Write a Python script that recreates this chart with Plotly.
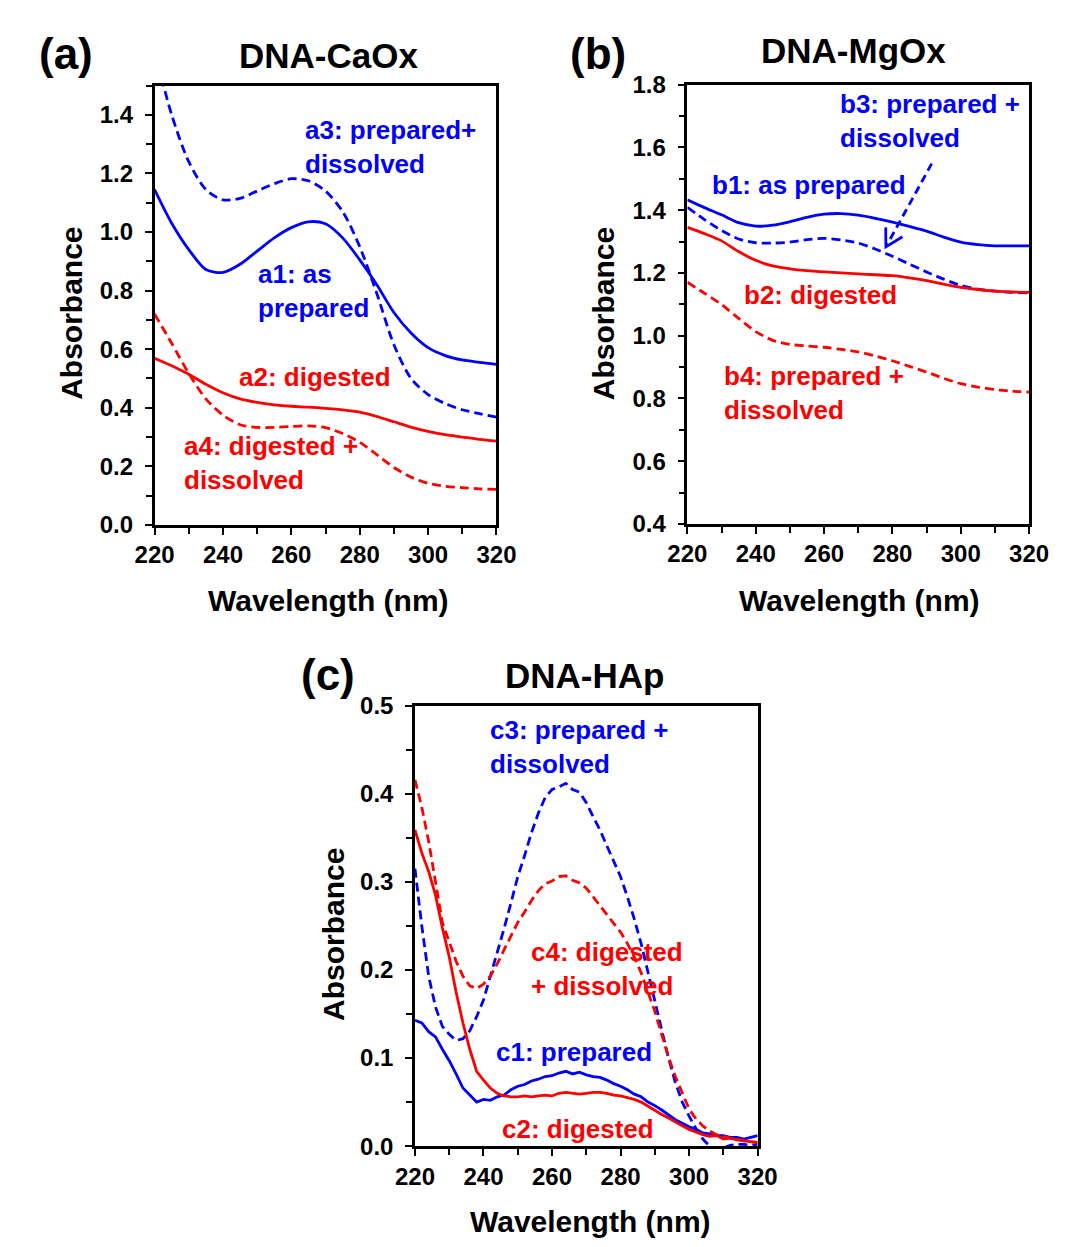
import plotly.graph_objects as go

# ---------------- data ----------------
wl5 = [220, 225, 230, 235, 240, 245, 250, 255, 260, 265, 270, 275, 280, 285, 290, 295, 300, 305, 310, 315, 320]

a1_prepared = [1.145, 1.03, 0.94, 0.872, 0.862, 0.89, 0.935, 0.98, 1.015, 1.035, 1.028, 0.98, 0.905, 0.82, 0.725, 0.655, 0.605, 0.578, 0.563, 0.555, 0.548]
a2_digested = [0.569, 0.543, 0.514, 0.48, 0.451, 0.43, 0.418, 0.41, 0.405, 0.402, 0.398, 0.393, 0.385, 0.37, 0.352, 0.334, 0.319, 0.308, 0.30, 0.292, 0.286]
a3_prep_diss = [1.62, 1.40, 1.24, 1.145, 1.11, 1.115, 1.14, 1.165, 1.182, 1.175, 1.14, 1.07, 0.95, 0.79, 0.615, 0.50, 0.445, 0.414, 0.393, 0.38, 0.368]
a4_dig_diss = [0.72, 0.62, 0.517, 0.43, 0.375, 0.342, 0.333, 0.333, 0.336, 0.338, 0.332, 0.312, 0.282, 0.24, 0.196, 0.163, 0.142, 0.132, 0.127, 0.123, 0.121]

b1_prepared = [1.433, 1.408, 1.385, 1.36, 1.349, 1.352, 1.363, 1.377, 1.387, 1.389, 1.384, 1.374, 1.362, 1.348, 1.333, 1.314, 1.298, 1.290, 1.286, 1.286, 1.286]
b2_digested = [1.345, 1.325, 1.302, 1.268, 1.24, 1.222, 1.213, 1.207, 1.203, 1.200, 1.197, 1.194, 1.191, 1.184, 1.175, 1.164, 1.154, 1.147, 1.142, 1.139, 1.138]
b3_prep_diss = [1.409, 1.37, 1.335, 1.308, 1.296, 1.295, 1.298, 1.306, 1.310, 1.305, 1.295, 1.276, 1.253, 1.228, 1.203, 1.18, 1.16, 1.148, 1.142, 1.138, 1.136]
b4_prep_diss = [1.17, 1.135, 1.099, 1.055, 1.013, 0.985, 0.972, 0.967, 0.963, 0.956, 0.948, 0.935, 0.92, 0.902, 0.884, 0.864, 0.847, 0.836, 0.828, 0.823, 0.820]

wl2 = list(range(220, 321, 2))

c1_prepared = [0.143, 0.140, 0.130, 0.124, 0.110, 0.097, 0.082, 0.066, 0.058, 0.050,
               0.053, 0.052, 0.056, 0.058, 0.064, 0.068, 0.070, 0.074, 0.076, 0.079,
               0.080, 0.083, 0.085, 0.082, 0.084, 0.081, 0.079, 0.078, 0.075, 0.071,
               0.068, 0.064, 0.059, 0.056, 0.050, 0.046, 0.041, 0.035, 0.030, 0.026,
               0.022, 0.019, 0.015, 0.014, 0.012, 0.012, 0.010, 0.010, 0.008, 0.010, 0.012]
c2_digested = [0.359, 0.333, 0.312, 0.285, 0.248, 0.215, 0.175, 0.140, 0.110, 0.085,
               0.075, 0.066, 0.060, 0.057, 0.056, 0.056, 0.057, 0.056, 0.057, 0.058,
               0.057, 0.060, 0.061, 0.060, 0.059, 0.060, 0.061, 0.061, 0.060, 0.058,
               0.057, 0.055, 0.053, 0.050, 0.045, 0.041, 0.036, 0.032, 0.027, 0.023,
               0.019, 0.016, 0.013, 0.011, 0.012, 0.008, 0.009, 0.007, 0.006, 0.005, 0.004]
c3_prep_diss = [0.315, 0.250, 0.193, 0.158, 0.136, 0.127, 0.120, 0.122, 0.131, 0.147,
                0.166, 0.193, 0.218, 0.247, 0.276, 0.306, 0.330, 0.356, 0.378, 0.396,
                0.405, 0.408, 0.412, 0.405, 0.402, 0.390, 0.374, 0.359, 0.341, 0.324,
                0.306, 0.283, 0.258, 0.230, 0.199, 0.165, 0.132, 0.100, 0.072, 0.050,
                0.034, 0.020, 0.008, 0.000, -0.004, -0.002, 0.001, 0.002, 0.002, 0.001, 0.002]
c4_dig_diss = [0.416, 0.385, 0.346, 0.298, 0.254, 0.232, 0.210, 0.193, 0.182, 0.179,
               0.184, 0.193, 0.207, 0.223, 0.239, 0.254, 0.266, 0.279, 0.290, 0.298,
               0.301, 0.306, 0.307, 0.302, 0.299, 0.293, 0.283, 0.273, 0.263, 0.254,
               0.243, 0.230, 0.215, 0.197, 0.175, 0.153, 0.127, 0.101, 0.079, 0.061,
               0.042, 0.031, 0.023, 0.017, 0.013, 0.011, 0.009, 0.008, 0.006, 0.005, 0.004]

BLUE = "#0000FF"
RED = "#FF0000"
FONT = "Arial, Liberation Sans, sans-serif"
DASH = "9px,5px"
LW = 2.8

fig = go.Figure()

def add(x, y, color, dashed, xa, ya, spline=True):
    fig.add_trace(go.Scatter(
        x=x, y=y, mode="lines", xaxis=xa, yaxis=ya, showlegend=False,
        line=dict(color=color, width=LW, dash=DASH if dashed else "solid",
                  shape="spline" if spline else "linear", smoothing=0.8 if spline else None),
        hoverinfo="skip"))

# panel a
add(wl5, a1_prepared, BLUE, False, "x", "y")
add(wl5, a3_prep_diss, BLUE, True, "x", "y")
add(wl5, a2_digested, RED, False, "x", "y")
add(wl5, a4_dig_diss, RED, True, "x", "y")
# panel b
add(wl5, b1_prepared, BLUE, False, "x2", "y2")
add(wl5, b3_prep_diss, BLUE, True, "x2", "y2")
add(wl5, b2_digested, RED, False, "x2", "y2")
add(wl5, b4_prep_diss, RED, True, "x2", "y2")
# panel c
add(wl2, c1_prepared, BLUE, False, "x3", "y3", spline=False)
add(wl2, c3_prep_diss, BLUE, True, "x3", "y3", spline=False)
add(wl2, c2_digested, RED, False, "x3", "y3", spline=False)
add(wl2, c4_dig_diss, RED, True, "x3", "y3", spline=False)

W, H = 1069, 1247

def px(xp):
    return xp / W

def py(yp):
    return 1 - yp / H

tickfont = dict(family=FONT, size=24, color="black", weight="bold")

def xaxis(domain, anchor):
    return dict(domain=domain, anchor=anchor, range=[220, 320], dtick=20, tick0=220,
                showline=True, linecolor="black", linewidth=2.5, mirror=True,
                ticks="outside", ticklen=7, tickwidth=2, tickcolor="black",
                minor=dict(dtick=10, ticks="outside", ticklen=6, tickwidth=2, tickcolor="black"),
                showgrid=False, zeroline=False, tickfont=tickfont)

def yaxis(domain, anchor, rng, dtick, mdtick):
    return dict(domain=domain, anchor=anchor, range=rng, dtick=dtick, tick0=0,
                tickformat=".1f", ticklabelstandoff=7,
                showline=True, linecolor="black", linewidth=2.5, mirror=True,
                ticks="outside", ticklen=7, tickwidth=2, tickcolor="black",
                minor=dict(dtick=mdtick, ticks="outside", ticklen=6, tickwidth=2, tickcolor="black"),
                showgrid=False, zeroline=False, tickfont=tickfont)

fig.update_layout(
    width=W, height=H, margin=dict(l=0, r=0, t=0, b=0),
    paper_bgcolor="white", plot_bgcolor="white",
    xaxis=xaxis([px(131.5), px(486.7)], "y"),
    yaxis=yaxis([py(514), py(65)], "x", [0, 1.5], 0.2, 0.1),
    xaxis2=xaxis([px(685), px(1040)], "y2"),
    yaxis2=yaxis([py(513), py(64)], "x2", [0.4, 1.8], 0.2, 0.1),
    xaxis3=xaxis([px(402), px(758)], "y3"),
    yaxis3=yaxis([py(1149), py(699)], "x3", [0, 0.5], 0.1, 0.05),
)

ann = []

def paper_text(text, xp, yp, size, angle=0):
    ann.append(dict(text=text, x=px(xp), y=py(yp), xref="paper", yref="paper",
                    xanchor="center", yanchor="middle", showarrow=False, textangle=angle,
                    font=dict(family=FONT, size=size, color="black", weight="bold")))

# panel labels and titles
paper_text("(a)", 39, 32, 44)
paper_text("DNA-CaOx", 312, 34, 35)
paper_text("(b)", 592, 32, 44)
paper_text("DNA-MgOx", 858, 29, 35)
paper_text("(c)", 312, 667, 44)
paper_text("DNA-HAp", 578, 668, 35)
# axis titles
paper_text("Wavelength (nm)", 312, 591, 30)
paper_text("Wavelength (nm)", 864, 591, 30)
paper_text("Wavelength (nm)", 584, 1226, 30)
paper_text("Absorbance", 45, 298, 30, -90)
paper_text("Absorbance", 598, 298, 30, -90)
paper_text("Absorbance", 318, 933, 30, -90)

def label(text, x, y, xr, yr, color):
    ann.append(dict(text=text, x=x, y=y, xref=xr, yref=yr, xanchor="left", yanchor="middle",
                    align="left", showarrow=False,
                    font=dict(family=FONT, size=26, color=color, weight="bold")))

label("a3: prepared+<br>dissolved", 263.5, 1.291, "x", "y", BLUE)
label("a1: as<br>prepared", 249.7, 0.799, "x", "y", BLUE)
label("a2: digested", 244.1, 0.504, "x", "y", RED)
label("a4: digested +<br>dissolved", 228.0, 0.212, "x", "y", RED)

label("b3: prepared +<br>dissolved", 264.2, 1.685, "x2", "y2", BLUE)
label("b1: as prepared", 226.5, 1.479, "x2", "y2", BLUE)
label("b2: digested", 236.1, 1.130, "x2", "y2", RED)
label("b4: prepared +<br>dissolved", 230.1, 0.816, "x2", "y2", RED)

label("c3: prepared +<br>dissolved", 241.3, 0.4533, "x3", "y3", BLUE)
label("c4: digested<br>+ dissolved", 253.4, 0.2017, "x3", "y3", RED)
label("c1: prepared", 243.0, 0.1067, "x3", "y3", BLUE)
label("c2: digested", 244.7, 0.0189, "x3", "y3", RED)

fig.update_layout(annotations=ann)

# dashed arrow in panel b
fig.add_shape(type="line", xref="x2", yref="y2", x0=291.5, y0=1.548, x1=278.3, y1=1.287,
              line=dict(color=BLUE, width=2.8, dash="8px,5px"))
fig.add_shape(type="path", xref="x2", yref="y2",
              path="M 278.04,1.345 L 278.1,1.283 L 282.95,1.315",
              line=dict(color=BLUE, width=2.8))

fig.write_html("out.html")
